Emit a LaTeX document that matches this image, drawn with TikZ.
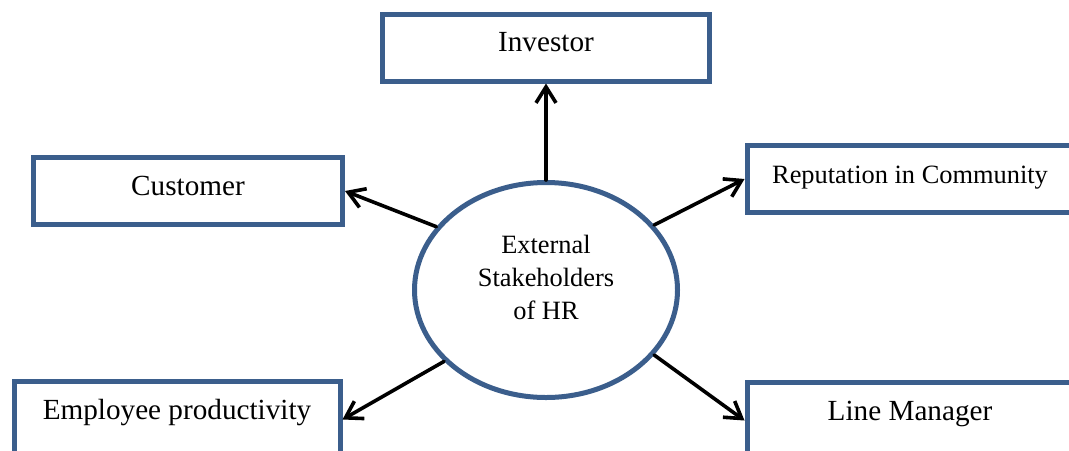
\documentclass[tikz,border=0pt]{standalone}
\usepackage{fontspec}
\setmainfont{Liberation Serif}
\usetikzlibrary{shapes.geometric,arrows.meta}
\definecolor{boxblue}{RGB}{59,94,140}
\tikzset{
  stakebox/.style={draw=boxblue, line width=2.5pt, fill=white, minimum width=163pt,
    minimum height=33.5pt, inner sep=0pt, text height=10pt, text depth=6pt,
    font=\fontsize{14.6}{17}\selectfont},
  lowbox/.style={stakebox, minimum height=38pt, text depth=10.5pt},
  link/.style={line width=1.8pt, line cap=round,
    -{Straight Barb[length=8pt,width=10pt,line width=1.8pt]}}
}
\begin{document}
\begin{tikzpicture}[x=0.5pt, y=-0.5pt]
  \clip (0,0) rectangle (1069,450);

  % Centre ellipse
  \node[ellipse, draw=boxblue, line width=2.5pt, minimum width=131.5pt,
    minimum height=107.5pt, inner sep=0pt] (hr) at (546,290) {};
  \node[font=\fontsize{13.2}{16.5}\selectfont, align=center] (hrtext) at (546,277)
    {External\\Stakeholders\\of HR};

  % Stakeholder boxes
  \node[stakebox, minimum width=163.5pt] (inv) at (546,47.5) {Investor};
  \node[stakebox, minimum width=154.5pt] (cust) at (188,191) {Customer};
  \node[stakebox, font=\fontsize{13.2}{16}\selectfont] (rep) at (910,179) {Reputation in Community};
  \node[lowbox] (emp) at (177,419.5) {Employee productivity};
  \node[lowbox] (lm) at (910,420.5) {Line Manager};

  % Arrows
  \draw[link] (hr.north) -- (inv.south);
  \draw[link] (hr.150) -- (cust.east);
  \draw[link] (hr.31) -- (rep.west);
  \draw[link] (hr.215) -- (emp.east);
  \draw[link] (hr.329) -- (lm.west);
\end{tikzpicture}
\end{document}
